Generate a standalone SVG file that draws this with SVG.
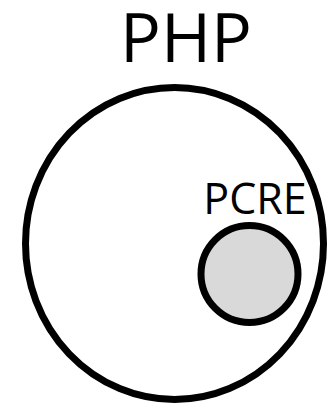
<svg xmlns="http://www.w3.org/2000/svg" width="331" height="404" viewBox="0 0 331 404">
  <style>
    .ring { stroke: #000; stroke-width: 7; }
    .label { font-family: "Open Sans", "Liberation Sans", sans-serif; fill: #000; text-anchor: middle; }
  </style>
  <rect width="331" height="404" fill="#fff"/>
  <g id="php">
    <ellipse class="ring" cx="174.5" cy="243.5" rx="149" ry="156" fill="#fff"/>
    <text class="label" x="186" y="62" font-size="68">PHP</text>
  </g>
  <g id="pcre">
    <circle class="ring" cx="249.5" cy="274" r="48.5" fill="#d9d9d9"/>
    <text class="label" x="255" y="214" font-size="43">PCRE</text>
  </g>
  <g id="connectors"/>
</svg>
